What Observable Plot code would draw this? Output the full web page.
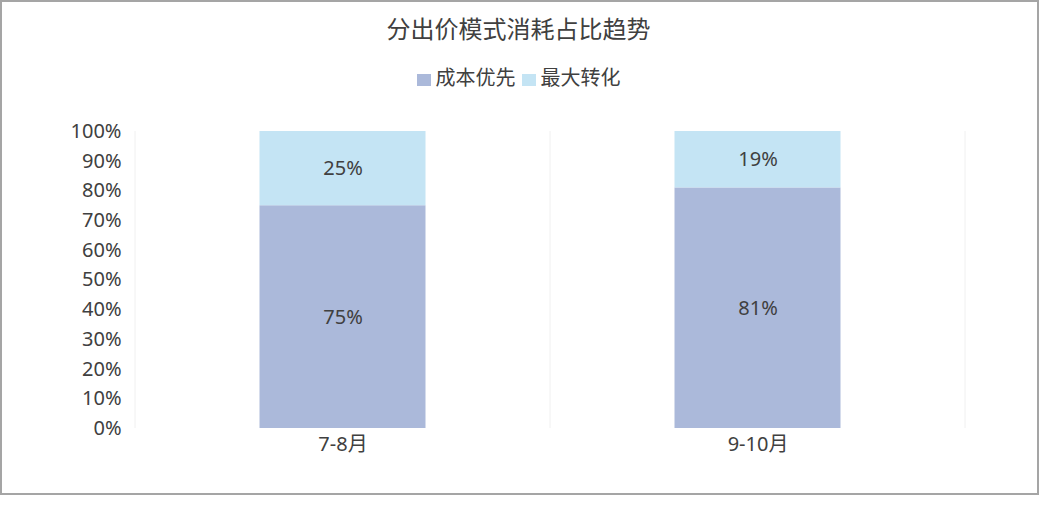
<!DOCTYPE html>
<html>
<head>
<meta charset="utf-8">
<script src="https://cdn.jsdelivr.net/npm/d3@7"></script>
<script src="https://cdn.jsdelivr.net/npm/@observablehq/plot@0.6"></script>
<style>
  html, body { margin: 0; padding: 0; background: #fff; }
  body { width: 1039px; height: 507px; position: relative; overflow: hidden;
         font-family: "Noto Sans", "Noto Sans CJK SC", sans-serif; color: #404040; }
  #frame { position: absolute; left: 0; top: 0; width: 1039px; height: 495px;
           box-sizing: border-box; border: 2px solid #a5a5a5; }
  #title { position: absolute; left: 0; width: 1037px; top: 13px; text-align: center;
           font-size: 24px; line-height: 32px; color: #404040; }
  #legend { position: absolute; left: 0; width: 1037px; top: 64px; text-align: center;
            font-size: 20px; line-height: 28px; color: #404040; }
  .item { display: inline-block; margin: 0 3px; }
  .sw { display: inline-block; width: 14px; height: 12px; margin-right: 5px; vertical-align: -1px; }
  #chart { position: absolute; left: 0; top: 0; }
</style>
</head>
<body>
<div id="frame"></div>
<div id="title"></div>
<div id="legend"></div>
<div id="chart"></div>
<script>
const title = "分出价模式消耗占比趋势";
const categories = ["7-8月", "9-10月"];
const seriesNames = ["成本优先", "最大转化"];
const seriesColors = ["#abb9da", "#c4e4f4"];
const costFirst = [75, 81];
const maxConv = [25, 19];
const yTicks = [0, 10, 20, 30, 40, 50, 60, 70, 80, 90, 100];

const data = [];
categories.forEach((c, i) => {
  data.push({cat: c, series: seriesNames[0], value: costFirst[i]});
  data.push({cat: c, series: seriesNames[1], value: maxConv[i]});
});

document.getElementById("title").textContent = title;
document.getElementById("legend").innerHTML = seriesNames.map((s, i) =>
  `<span class="item"><span class="sw" style="background:${seriesColors[i]}"></span>${s}</span>`
).join("");

const chart = Plot.plot({
  width: 1039,
  height: 495,
  marginLeft: 135,
  marginRight: 74,
  marginTop: 131,
  marginBottom: 67,
  style: {fontFamily: "'Noto Sans', 'Noto Sans CJK SC', sans-serif", fontSize: "20px", color: "#404040", background: "transparent"},
  x: {domain: categories, padding: 0, label: null, tickSize: 0, tickPadding: 8},
  y: {domain: [0, 100], ticks: yTicks, tickFormat: d => d + "%", label: null, tickSize: 0, tickPadding: 14},
  color: {domain: seriesNames, range: seriesColors},
  marks: [
    Plot.barY(data, {
      x: "cat", y: "value", fill: "series",
      insetLeft: 124.5, insetRight: 124.5
    }),
    Plot.text(data, Plot.stackY({
      x: "cat", y: "value", z: "series", text: d => d.value + "%",
      fill: "#404040", fontSize: 20
    }))
  ]
});
document.getElementById("chart").appendChild(chart);

// faint vertical separators at band boundaries, positioned by the plot's scales
const xs = chart.scale("x");
const ys = chart.scale("y");
const bounds = categories.map(c => xs.apply(c));
bounds.push(xs.apply(categories[categories.length - 1]) + xs.bandwidth);
d3.select(chart).insert("g", ":first-child")
  .selectAll("line").data(bounds).join("line")
  .attr("x1", d => d).attr("x2", d => d)
  .attr("y1", ys.apply(0)).attr("y2", ys.apply(100))
  .attr("stroke", "#f0f0f0");
</script>
</body>
</html>
